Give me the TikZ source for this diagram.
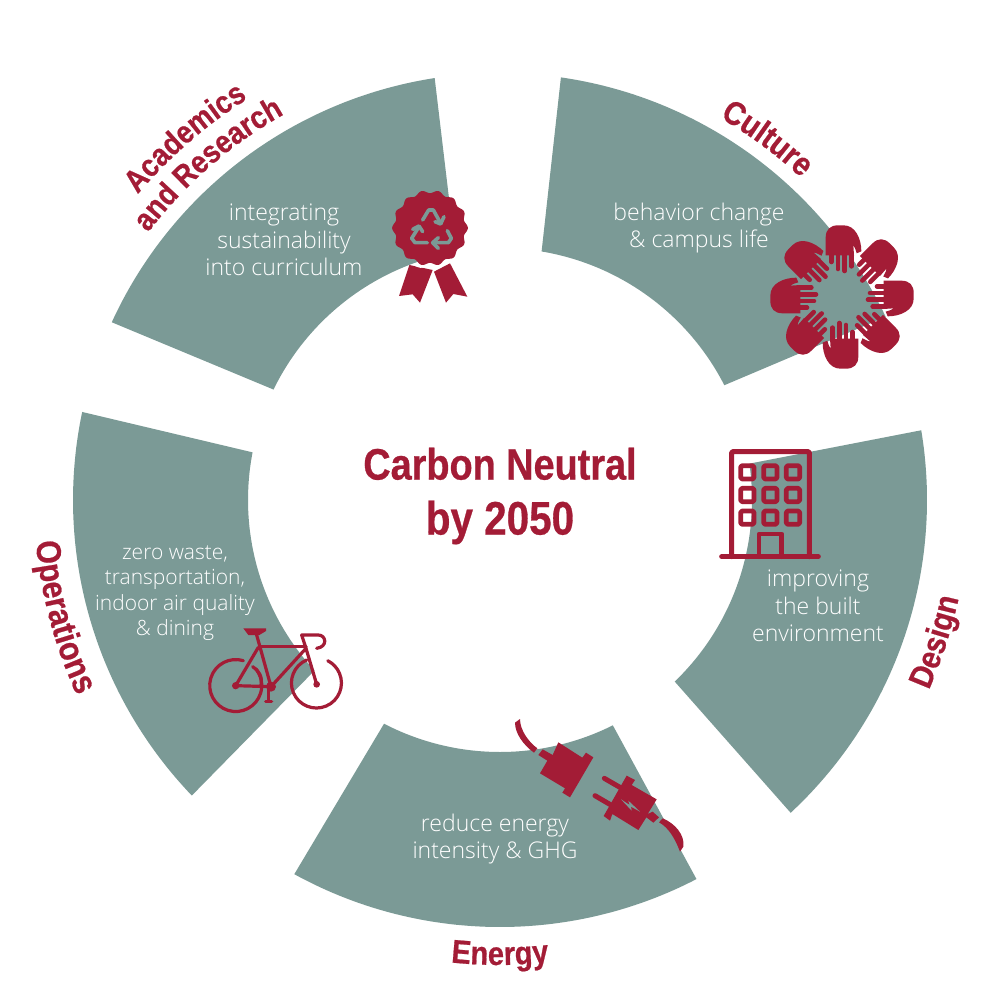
\documentclass[tikz,border=0pt]{standalone}
\usepackage{fontspec}
\usetikzlibrary{decorations.text}
\setmainfont{Open Sans Light}
\newfontfamily\lblf[FakeStretch=0.88,FakeBold=0.6]{Liberation Sans Bold}
\newfontfamily\ttlf[FakeStretch=0.86,FakeBold=0.6]{Liberation Sans Bold}
\definecolor{gteal}{HTML}{7B9A96}
\definecolor{wine}{HTML}{A31C36}
\tikzset{
  bodytext/.style={text=white,align=center,font=\fontsize{23}{27.4}\selectfont,inner sep=0pt},
  iconstroke/.style={draw=wine,line cap=round,line join=round},
  zoomgrid/.style={x=0.33333pt,y=-0.33333pt}
}
\newcommand\gsector[4]{\fill[gteal] plot[domain=#1:#2,samples=70] ({500+427*cos(\x)},{500+427*sin(\x)}) -- plot[domain=#3:#4,samples=70] ({500+252*cos(\x)},{500+252*sin(\x)}) -- cycle;}
\newcommand\arclabel[5]{\path[decorate,decoration={text along path,text align=center,text={|\lblf\fontsize{#5}{#5}\selectfont\color{wine}|#4}}] plot[domain=#2:#3,samples=60] ({500+#1*cos(\x)},{500+#1*sin(\x)});}
\begin{document}
\begin{tikzpicture}[x=1pt,y=-1pt]
\useasboundingbox (0,0) rectangle (1000,1000);
\fill[white] (0,0) rectangle (1000,1000);
% sectors
\gsector{-81.8}{-25.4}{-27.1}{-80.5}
\gsector{-9.4}{47.1}{46.1}{-8.3}
\gsector{62.6}{118.8}{117.4}{63.4}
\gsector{136.2}{191.9}{190.9}{137.4}
\gsector{204.6}{261.2}{259.8}{206}
% curved titles
\arclabel{474}{194}{264}{Academics}{31.5}
\arclabel{442}{194}{264}{and Research}{31.5}
\arclabel{441}{-86.5}{-20.5}{Culture}{33}
\arclabel{469}{50}{-14}{Design}{33}
\arclabel{465}{125}{55}{Energy}{33}
\arclabel{466}{200}{130}{Operations}{34.5}
% centre
\node[text=wine,align=center,font=\ttlf\fontsize{44}{55}\selectfont,inner sep=0pt] (title) at (500,496) {Carbon Neutral\\{\fontsize{47}{55}\selectfont by 2050}};
% body
\node[bodytext] (acad) at (284,240) {integrating\\sustainability\\into curriculum};
\node[bodytext] (cult) at (699,228) {behavior change\\\& campus life};
\node[bodytext] (desg) at (818,606) {improving\\the built\\environment};
\node[bodytext] (enrg) at (495,839) {reduce energy\\intensity \& GHG};
\node[bodytext,font=\fontsize{21}{25.5}\selectfont] (oper) at (175,593) {zero waste,\\transportation,\\indoor air quality\\\& dining};
% rosette
\begin{scope}[shift={(370,170)},zoomgrid]
\fill[wine] (118,285)--(188,300)--(150,398)--(128,373)--(87,378)--cycle;
\fill[wine] (240,280)--(292,380)--(250,372)--(228,398)--(192,305)--cycle;
\fill[wine] plot[domain=0:360,samples=240] ({180+(109+4.5*cos(14*\x))*cos(\x)},{174+(109+4.5*cos(14*\x))*sin(\x)});
\draw[white,line width=1.6pt,line cap=round] (135,285) .. controls (160,300) and (170,282) .. (185,290) .. controls (205,300) and (225,270) .. (250,278);
\begin{scope}[draw=gteal,line width=3.6pt,line join=round,line cap=round]
\draw (158,150)--(176,120)--(190,120)--(212,160);
\draw (195,155)--(212,162)--(222,140);
\draw (232,182)--(244,205)--(235,218)--(190,218);
\draw (205,203)--(188,218)--(205,235);
\draw (172,218)--(135,218)--(125,205)--(147,170);
\draw (128,178)--(147,168)--(158,185);
\end{scope}
\end{scope}
% hands
\begin{scope}[shift={(842,297)},zoomgrid]
\foreach \a in {0,45,...,315}{
\begin{scope}[rotate=\a]
\fill[wine] (-49,-137) -- (-49,-178) .. controls (-49,-203) and (-35,-215) .. (-12,-215) -- (5,-215) .. controls (40,-215) and (58,-175) .. (58,-137) -- (44,-131) .. controls (40,-145) and (38,-150) .. (34,-155) -- (36,-125) -- (-49,-125) -- cycle;
\foreach \fx/\fy in {-32/-105,-12/-84,8/-78,28/-92}{
\draw[wine,line width=4.6pt,line cap=round] (\fx,-130) -- (\fx,\fy);
}
\end{scope}
}
\end{scope}
% building
\begin{scope}[shift={(710,440)},zoomgrid]
\draw[iconstroke,line width=5pt,rounded corners=1pt] (65,350)--(65,35)--(298,35)--(298,350);
\draw[iconstroke,line width=5pt] (35,350)--(325,350);
\foreach \wx in {112,181,249}\foreach \wy in {97,165,233}{
\draw[iconstroke,line width=4.8pt,rounded corners=1.5pt] (\wx-20,\wy-20) rectangle (\wx+20,\wy+20);
}
\draw[iconstroke,line width=4.8pt] (147,350)--(147,282)--(215,282)--(215,350);
\end{scope}
% plugs
\begin{scope}[shift={(505,710)},zoomgrid]
\fill[wine] (143,135)--(160,97)--(232,143)--(243,128)--(265,142)--(195,262)--(172,248)--(180,235)--(105,190)--(127,152)--(100,135)--(113,118)--cycle;
\fill[wine] (30,38)--(45,27) .. controls (45,60) and (70,95) .. (97,115) -- (87,128) .. controls (55,105) and (30,70) .. (30,38) -- cycle;
\fill[wine] (365,197)--(390,210)--(380,225)--(455,268)--(428,312)--(443,305)--(462,322)--(445,338)--(424,322)--(400,360)--(322,312)--(315,332)--(296,318)--(345,232)--cycle;
\draw[wine,line width=5pt,line cap=round] (298,205)--(350,235);
\draw[wine,line width=5pt,line cap=round] (270,257)--(318,285);
\fill[gteal] (348,268)--(374,285)--(370,272)--(405,305)--(378,290)--(380,302)--cycle;
\fill[wine] (462,337)--(473,325) .. controls (510,340) and (540,375) .. (535,410) -- (525,425) .. controls (510,385) and (490,352) .. (462,337) -- cycle;
\end{scope}
% bicycle
\begin{scope}[shift={(200,620)},zoomgrid]
\begin{scope}[draw=wine,line width=3.2pt,line cap=round,line join=round]
\draw (130,122) arc[start angle=-73,end angle=-400,radius=78];
\draw (320,120) arc[start angle=-113,end angle=-423,radius=75] ;
\draw (107,197)--(213,200)--(318,85)--(350,193);
\draw (107,197)--(175,82);
\draw (170,45)--(213,200);
\draw (180,80)--(318,80);
\draw (318,85)--(305,45)--(355,45) .. controls (378,45) and (385,80) .. (350,85);
\draw (158,140) .. controls (175,150) and (190,170) .. (182,200);
\draw (205,200)--(205,243);
\draw (197,245)--(215,245);
\end{scope}
\fill[wine] (130,25)--(198,25)--(198,33)--(178,45)--(145,45)--cycle;
\fill[wine] (107,197) circle[radius=11];
\fill[wine] (350,193) circle[radius=10];
\fill[wine] (213,200) circle[radius=15];
\end{scope}
\end{tikzpicture}
\end{document}
